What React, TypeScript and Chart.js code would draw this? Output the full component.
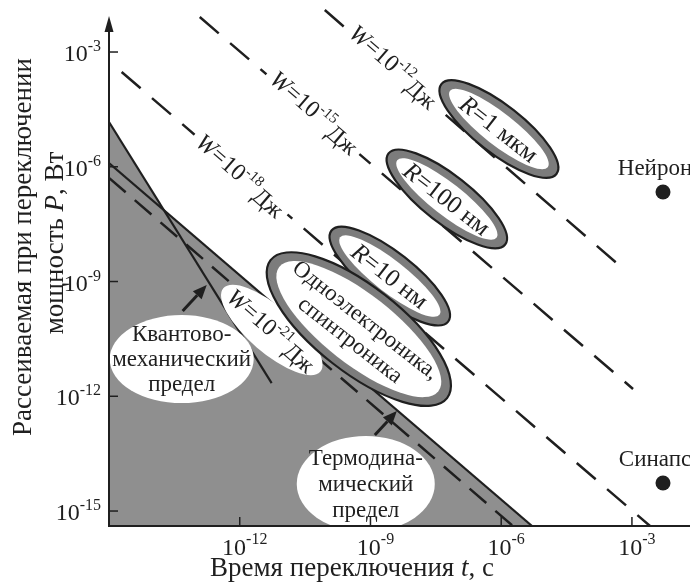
import React, { useEffect, useRef } from 'react';
import { Chart, registerables } from 'chart.js';

Chart.register(...registerables);

// ---------- data ----------
const X_MIN = 1e-15;
const X_MAX = 2.15e-2;
const Y_MIN = 4.06e-16;
const Y_MAX = 2.29e-2;

const xTickExponents = [-12, -9, -6, -3];
const yTickExponents = [-15, -12, -9, -6, -3];

// limits (t [s], P [W])
const thermoLimit = [
  { x: 1e-15, y: 1.25e-6 },
  { x: 5.1e-6, y: 4.06e-16 },
];
const quantumLimit = [
  { x: 1e-15, y: 1.48e-5 },
  { x: 5.4e-12, y: 2.2e-12 },
];
const forbiddenRegion = [
  { x: 1e-15, y: 1.48e-5 },
  { x: 1.83e-14, y: 7.3e-8 },
  { x: 5.1e-6, y: 4.06e-16 },
];

// constant switching energy lines W = P*t
const energyExponents = [-21, -18, -15, -12];
const energy21 = [
  { x: 1e-15, y: 5.1e-7 },
  { x: 1.86e-6, y: 4.06e-16 },
];
const energy18 = [
  { x: 1.95e-15, y: 3.0e-4 },
  { x: 2.6e-3, y: 4.06e-16 },
];
const energy15 = [
  { x: 1.21e-13, y: 8.2e-3 },
  { x: 1.06e-3, y: 1.55e-12 },
];
const energy12 = [
  { x: 8.95e-11, y: 1.25e-2 },
  { x: 7.7e-4, y: 1.77e-9 },
];

const neuron = [{ x: 5.16e-3, y: 2.19e-7 }];
const synapse = [{ x: 5.16e-3, y: 5.4e-15 }];

const techCenters = [
  { x: 8.85e-7, y: 9.7e-6 },
  { x: 5.66e-8, y: 1.44e-7 },
  { x: 2.78e-9, y: 1.39e-9 },
  { x: 5.4e-10, y: 5.7e-11 },
];

// ---------- styling / annotation layout ----------
const FONT = '"Liberation Serif", "Times New Roman", Times, serif';
const INK = '#1f1f1f';
const REGION_GRAY = '#8f8f8f';
const RING_GRAY = '#7c7c7c';

type Run = { t: string; i?: boolean; s?: number; dy?: number };

const techStyles = [
  { runs: [[{ t: 'R', i: true }, { t: '=1 мкм' }]], a: 73, b: 24 },
  { runs: [[{ t: 'R', i: true }, { t: '=100 нм' }]], a: 74, b: 24 },
  { runs: [[{ t: 'R', i: true }, { t: '=10 нм' }]], a: 74, b: 24 },
  { runs: [[{ t: 'Одноэлектроника,' }], [{ t: 'спинтроника' }]], a: 112, b: 43 },
];
const TECH_ANGLE = 38;

const energyLabelAnchors = [
  { x: 5.43e-12, y: 5.4e-11, line: 0 },
  { x: 1.05e-12, y: 6.08e-7, line: 1 },
  { x: 5.27e-11, y: 2.7e-5, line: 2 },
  { x: 3.44e-9, y: 4.3e-4, line: 3 },
];

const limitNotes = [
  { lines: ['Квантово-', 'механический', 'предел'], x: 4.66e-14, y: 9.4e-12, rx: 72, ry: 44, lh: 25 },
  { lines: ['Термодина-', 'мический', 'предел'], x: 7.8e-10, y: 5.1e-15, rx: 69, ry: 48, lh: 26 },
];

const noteArrows = [
  { from: { x: 4.9e-14, y: 1.69e-10 }, to: { x: 1.75e-13, y: 8.1e-10 } },
  { from: { x: 1.26e-9, y: 9.7e-14 }, to: { x: 4.03e-9, y: 4.1e-13 } },
];

const pointNotes = [
  { text: 'Нейрон', at: neuron[0] },
  { text: 'Синапс', at: synapse[0] },
];

function font(size: number, italic?: boolean) {
  return `${italic ? 'italic ' : ''}${size}px ${FONT}`;
}
function runsWidth(ctx: CanvasRenderingContext2D, runs: Run[], base: number) {
  let w = 0;
  for (const r of runs) {
    ctx.font = font(r.s || base, r.i);
    w += ctx.measureText(r.t).width;
  }
  return w;
}
function drawRuns(
  ctx: CanvasRenderingContext2D,
  runs: Run[],
  x: number,
  y: number,
  base: number,
  align: 'left' | 'center' | 'right'
) {
  const w = runsWidth(ctx, runs, base);
  let cx = align === 'center' ? x - w / 2 : align === 'right' ? x - w : x;
  ctx.textAlign = 'left';
  ctx.textBaseline = 'alphabetic';
  for (const r of runs) {
    ctx.font = font(r.s || base, r.i);
    ctx.fillText(r.t, cx, y + (r.dy || 0));
    cx += ctx.measureText(r.t).width;
  }
  return w;
}

const overlay = {
  id: 'overlay',
  afterDatasetsDraw(chart: any) {
    const ctx: CanvasRenderingContext2D = chart.ctx;
    const xs = chart.scales.x;
    const ys = chart.scales.y;
    const area = chart.chartArea;
    const px = (v: number) => xs.getPixelForValue(v);
    const py = (v: number) => ys.getPixelForValue(v);
    const lines = [energy21, energy18, energy15, energy12];
    const lineAngle = (l: { x: number; y: number }[]) =>
      Math.atan2(py(l[1].y) - py(l[0].y), px(l[1].x) - px(l[0].x));

    ctx.save();
    ctx.fillStyle = INK;

    // labels on constant-energy lines
    energyLabelAnchors.forEach((a, idx) => {
      const exp = energyExponents[idx];
      const runs: Run[] = [
        { t: 'W', i: true },
        { t: '=10' },
        { t: String(exp), s: 15, dy: -10 },
        { t: 'Дж', dy: 4 },
      ];
      const ang = lineAngle(lines[a.line]);
      ctx.save();
      ctx.translate(px(a.x), py(a.y));
      ctx.rotate(ang);
      const w = runsWidth(ctx, runs, 24);
      if (idx === 0) {
        ctx.beginPath();
        ctx.ellipse(0, 0, 64, 23, 0, 0, Math.PI * 2);
        ctx.fillStyle = '#ffffff';
        ctx.fill();
      } else {
        ctx.fillStyle = '#ffffff';
        ctx.fillRect(-w / 2 - 6, -16, w + 12, 30);
      }
      ctx.fillStyle = INK;
      drawRuns(ctx, runs, 0, 7, 24, 'center');
      ctx.restore();
    });

    // technology ellipses
    techCenters.forEach((c, idx) => {
      const st = techStyles[idx];
      ctx.save();
      ctx.translate(px(c.x), py(c.y));
      ctx.rotate((TECH_ANGLE * Math.PI) / 180);
      ctx.beginPath();
      ctx.ellipse(0, 0, st.a, st.b, 0, 0, Math.PI * 2);
      ctx.fillStyle = RING_GRAY;
      ctx.fill();
      ctx.lineWidth = 2.2;
      ctx.strokeStyle = INK;
      ctx.stroke();
      ctx.beginPath();
      ctx.ellipse(0, 0, st.a - 11, st.b - 8, 0, 0, Math.PI * 2);
      ctx.fillStyle = '#ffffff';
      ctx.fill();
      ctx.fillStyle = INK;
      const n = st.runs.length;
      st.runs.forEach((r, i) => {
        const base = n > 1 ? 23 : 25;
        drawRuns(ctx, r as Run[], 0, 8 + (i - (n - 1) / 2) * 25, base, 'center');
      });
      ctx.restore();
    });

    // white notes inside the gray area
    ctx.save();
    ctx.beginPath();
    ctx.rect(area.left, area.top, area.right - area.left, area.bottom - area.top);
    ctx.clip();
    limitNotes.forEach((n) => {
      const cx = px(n.x);
      const cy = py(n.y);
      ctx.beginPath();
      ctx.ellipse(cx, cy, n.rx, n.ry, 0, 0, Math.PI * 2);
      ctx.fillStyle = '#ffffff';
      ctx.fill();
      ctx.fillStyle = INK;
      n.lines.forEach((t, i) => {
        drawRuns(ctx, [{ t }], cx, cy + 7 + (i - 1) * n.lh, 23, 'center');
      });
    });
    ctx.restore();

    // arrows
    noteArrows.forEach((ar) => {
      const x1 = px(ar.from.x), y1 = py(ar.from.y);
      const x2 = px(ar.to.x), y2 = py(ar.to.y);
      const ang = Math.atan2(y2 - y1, x2 - x1);
      const hl = 14, hw = 6;
      const bx = x2 - hl * Math.cos(ang), by = y2 - hl * Math.sin(ang);
      ctx.beginPath();
      ctx.moveTo(x1, y1);
      ctx.lineTo(bx, by);
      ctx.lineWidth = 3;
      ctx.strokeStyle = INK;
      ctx.stroke();
      ctx.beginPath();
      ctx.moveTo(x2, y2);
      ctx.lineTo(bx + hw * Math.sin(ang), by - hw * Math.cos(ang));
      ctx.lineTo(bx - hw * Math.sin(ang), by + hw * Math.cos(ang));
      ctx.closePath();
      ctx.fillStyle = INK;
      ctx.fill();
    });

    // axes
    const left = area.left;
    const bottom = area.bottom;
    ctx.strokeStyle = INK;
    ctx.fillStyle = INK;
    ctx.lineWidth = 2;
    ctx.beginPath();
    ctx.moveTo(left, bottom);
    ctx.lineTo(left, 28);
    ctx.moveTo(left - 1, bottom);
    ctx.lineTo(area.right, bottom);
    ctx.stroke();
    ctx.beginPath();
    ctx.moveTo(left, 16);
    ctx.lineTo(left - 4.5, 32);
    ctx.lineTo(left + 4.5, 32);
    ctx.closePath();
    ctx.fill();

    ctx.lineWidth = 1.5;
    yTickExponents.forEach((e) => {
      const y = py(Math.pow(10, e));
      ctx.beginPath();
      ctx.moveTo(left, y);
      ctx.lineTo(left + 9, y);
      ctx.stroke();
      drawRuns(ctx, [{ t: '10' }, { t: String(e), s: 16, dy: -10 }], left - 8, y + 9, 24, 'right');
    });
    xTickExponents.forEach((e) => {
      const x = px(Math.pow(10, e));
      ctx.beginPath();
      ctx.moveTo(x, bottom);
      ctx.lineTo(x, bottom - 9);
      ctx.stroke();
      drawRuns(ctx, [{ t: '10' }, { t: String(e), s: 16, dy: -11 }], x + 5, bottom + 29, 24, 'center');
    });

    // axis titles
    drawRuns(ctx, [{ t: 'Время переключения ' }, { t: 't', i: true }, { t: ', с' }], 352, 576, 27, 'center');
    ctx.save();
    ctx.translate(31, 247);
    ctx.rotate(-Math.PI / 2);
    drawRuns(ctx, [{ t: 'Рассеиваемая при переключении' }], 0, 0, 27, 'center');
    ctx.restore();
    ctx.save();
    ctx.translate(63, 243);
    ctx.rotate(-Math.PI / 2);
    drawRuns(ctx, [{ t: 'мощность ' }, { t: 'P', i: true }, { t: ', Вт' }], 0, 0, 27, 'center');
    ctx.restore();

    // point labels
    pointNotes.forEach((p) => {
      drawRuns(ctx, [{ t: p.text }], px(p.at.x) - 8, py(p.at.y) - 17, 23, 'center');
    });

    ctx.restore();
  },
};

export default function App() {
  const ref = useRef<HTMLCanvasElement>(null);
  useEffect(() => {
    document.body.style.margin = '0';
    const line = (data: any[], dash: number[] | undefined, width: number) => ({
      data,
      borderColor: INK,
      borderWidth: width,
      borderDash: dash || [],
      pointRadius: 0,
      fill: false,
      tension: 0,
      order: 1,
    });
    const chart = new Chart(ref.current!, {
      type: 'line',
      data: {
        datasets: [
          line(thermoLimit, undefined, 2.2),
          line(quantumLimit, undefined, 2.2),
          line(energy21, [22, 12], 2.5),
          line(energy18, [25, 15], 2.5),
          line(energy15, [25, 15], 2.5),
          line(energy12, [25, 15], 2.5),
          {
            data: neuron,
            showLine: false,
            pointRadius: 7.5,
            pointBackgroundColor: INK,
            pointBorderWidth: 0,
            order: 0,
          } as any,
          {
            data: synapse,
            showLine: false,
            pointRadius: 7.5,
            pointBackgroundColor: INK,
            pointBorderWidth: 0,
            order: 0,
          } as any,
          {
            data: forbiddenRegion,
            borderWidth: 0,
            borderColor: 'rgba(0,0,0,0)',
            backgroundColor: REGION_GRAY,
            pointRadius: 0,
            fill: 'start',
            tension: 0,
            order: 10,
          },
        ],
      },
      options: {
        animation: false,
        responsive: false,
        devicePixelRatio: 1,
        layout: { autoPadding: false, padding: { left: 109, right: 0, top: 0, bottom: 59 } },
        scales: {
          x: { type: 'logarithmic', min: X_MIN, max: X_MAX, bounds: 'data', display: false },
          y: { type: 'logarithmic', min: Y_MIN, max: Y_MAX, bounds: 'data', display: false },
        },
        plugins: {
          legend: { display: false },
          tooltip: { enabled: false },
        },
        events: [],
      } as any,
      plugins: [overlay],
    });
    return () => chart.destroy();
  }, []);
  return (
    <div style={{ width: 690, height: 585 }}>
      <canvas ref={ref} width={690} height={585} style={{ display: 'block' }} />
    </div>
  );
}
